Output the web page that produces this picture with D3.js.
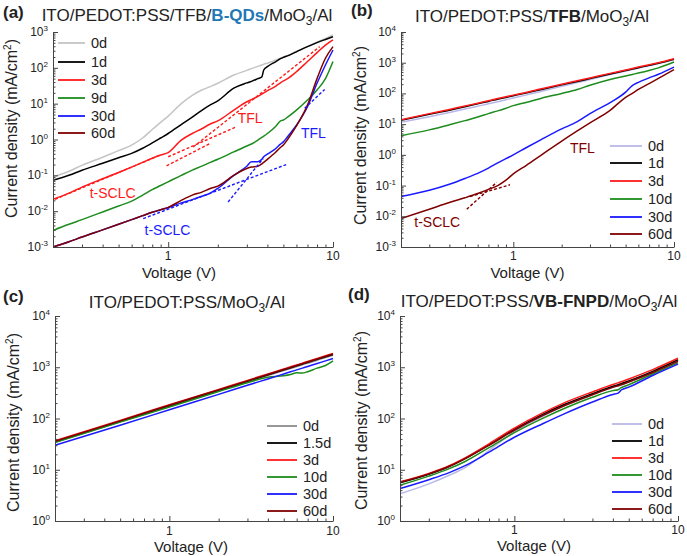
<!DOCTYPE html>
<html><head><meta charset="utf-8">
<script src="https://cdn.jsdelivr.net/npm/d3@7"></script>
<style>
body{margin:0;background:#fff}
svg{display:block}
text{font-family:"Liberation Sans",Arial,sans-serif;fill:#222}
</style>
</head><body>
<svg id="chart" width="687" height="556"></svg>
<script>
// ---------------- DATA ----------------
const xTickLabels = [1, 10];

// Panel (a) ITO/PEDOT:PSS/TFB/B-QDs/MoO3/Al
const voltsA = [0.2,0.25,0.3,0.4,0.5,0.6,0.7,0.8,0.9,1.0,1.2,1.4,1.6,1.8,2.0,2.5,3.0,3.2,3.5,3.7,3.8,4.0,4.5,4.8,5.0,5.3,6.0,7.0,8.0,9.0,10];
const labelsA = ["0d","1d","3d","9d","30d","60d"];
const a0d  = [0.09,0.13,0.19,0.32,0.49,0.7,1.1,1.9,3.0,4.5,10,17,24,30,37,63,85,95,110,120,126,135,165,185,200,220,290,390,520,660,830];
const a1d  = [0.073,0.1,0.138,0.217,0.31,0.41,0.57,0.8,1.1,1.47,2.6,4.2,6.5,9.2,12,27,38,42,50,56,87,108,150,180,196,215,280,390,505,620,740];
const a3d  = [0.0215,0.032,0.047,0.08,0.12,0.17,0.23,0.3,0.37,0.43,0.96,1.47,2.0,2.7,3.3,6.6,11.3,13,16,18.5,20,23,31,38,43,50,78,150,265,430,600];
const a9d  = [0.0029,0.0043,0.0058,0.0095,0.014,0.019,0.028,0.04,0.052,0.066,0.1,0.14,0.18,0.23,0.28,0.45,0.66,0.75,0.96,1.14,1.24,1.47,2.35,3.3,3.5,4.2,6.6,12.6,24,50,150];
const a30d = [0.001,0.0014,0.0019,0.003,0.0043,0.0058,0.0075,0.0093,0.011,0.0125,0.017,0.021,0.026,0.032,0.043,0.1,0.18,0.24,0.24,0.28,0.33,0.39,0.56,0.74,0.86,1.2,2.5,8.2,37,120,315];
const a60d = [0.001,0.0014,0.0019,0.003,0.0043,0.0058,0.0075,0.0093,0.011,0.0128,0.02,0.028,0.034,0.043,0.05,0.1,0.155,0.17,0.18,0.21,0.23,0.28,0.45,0.6,0.7,1.0,2.4,9.1,50,185,390];
// fitted dashed lines (V,J pairs)
const fitsRedA  = [[[0.206,0.0215],[0.89,0.365]], [[0.977,0.184],[1.79,0.77]], [[1.0,0.33],[2.6,2.26]], [[1.42,0.62],[8.3,390]]];
const fitsBlueA = [[[0.705,0.0062],[5.2,0.2]], [[2.31,0.018],[3.76,0.29]], [[6.73,7.4],[8.9,25]]];

// Panel (b) ITO/PEDOT:PSS/TFB/MoO3/Al
const voltsB = [0.2,0.3,0.4,0.5,0.6,0.7,0.8,0.9,1.0,1.2,1.5,2.0,2.5,3.0,4.0,5.0,5.5,6.0,7.0,8.0,10];
const labelsB = ["0d","1d","3d","10d","30d","60d"];
const b0d  = [11.5,17.5,24,31,38,46,54,62,71,88,118,170,225,285,410,540,605,670,800,940,1250];
const b1d  = [13.3,21,28.5,37,46,55,65,74,84,103,135,190,245,305,430,555,620,690,820,960,1300];
const b3d  = [14,22,30,39,48,58,68,78,88,108,142,200,258,320,450,580,650,720,860,1000,1350];
const b10d = [4.2,6.5,9.5,13,17,22,27,33,40,51,70,100,135,185,285,370,415,460,560,680,1050];
const b30d = [0.044,0.07,0.11,0.17,0.25,0.37,0.55,0.75,1.0,1.7,3.2,7,12,22,50,110,180,230,320,420,720];
const b60d = [0.0085,0.017,0.028,0.04,0.055,0.075,0.1,0.15,0.24,0.45,1.0,2.8,6,11,28,75,100,135,210,310,600];
const fitsB = [[[0.513,0.017],[0.788,0.127]], [[0.538,0.044],[0.953,0.106]]];

// Panel (c) ITO/PEDOT:PSS/MoO3/Al
const voltsC = [0.2,0.5,1,2,3,4,5,5.5,6,6.5,7,8,9,10];
const labelsC = ["0d","1.5d","3d","10d","30d","60d"];
const c0d   = [34.5,86,172,344,516,688,860,946,1030,1120,1200,1375,1550,1720];
const c15d  = [35.5,89,178,356,534,712,890,980,1070,1160,1250,1425,1600,1780];
const c3d   = [37,92,185,370,555,740,925,1020,1110,1200,1300,1480,1670,1850];
const c10d  = [34,85,168,336,500,640,680,720,780,770,820,960,1080,1330];
const c30d  = [30,74,148,296,444,592,740,814,888,962,1036,1184,1330,1480];
const c60d  = [36,90,181,362,543,724,905,995,1085,1175,1265,1450,1630,1810];

// Panel (d) ITO/PEDOT:PSS/VB-FNPD/MoO3/Al
const voltsD = [0.2,0.3,0.4,0.5,0.7,1.0,1.5,2.0,3.0,4.0,4.3,4.5,5.0,7.0,10];
const labelsD = ["0d","1d","3d","10d","30d","60d"];
const d0d  = [3.4,5.3,7.8,11,24,55,112,175,290,405,435,455,515,790,1300];
const d1d  = [5.6,8.2,11.6,16.5,31,62,122,185,305,425,455,480,540,830,1400];
const d3d  = [5.8,8.5,12,17,32,65,130,200,330,460,495,520,590,900,1500];
const d10d = [5.0,7.5,10.5,14.5,27,53,102,155,260,350,365,400,455,740,1220];
const d30d = [4.3,6.4,8.8,12,22,43,80,122,210,295,312,360,410,690,1150];
const d60d = [5.7,8.3,11.7,16.5,30,59,115,175,290,405,435,455,515,790,1300];

// ---------------- DRAWING ----------------
const svg = d3.select("#chart");
const RED="#ff1a1a", BLACK="#000000", GREEN="#1c8c1c", BLUE="#1a1aff", DRED="#800000";

function decades(lo, hi){const r=[];for(let e=Math.round(Math.log10(lo));e<=Math.round(Math.log10(hi));e++)r.push(e);return r;}
function minors(lo, hi){const r=[];for(let e=Math.floor(Math.log10(lo));e<Math.ceil(Math.log10(hi));e++)for(let k=2;k<=9;k++){const v=k*Math.pow(10,e);if(v>=lo*0.999&&v<=hi*1.001)r.push(v);}return r;}

function drawPanel(p, idx){
  const g = svg.append("g");
  const x = d3.scaleLog().domain([0.2,10]).range([p.l,p.r]);
  const y = d3.scaleLog().domain(p.yDom).range([p.b,p.t]);
  const clipId = "clip"+idx;
  g.append("clipPath").attr("id",clipId).append("rect")
    .attr("x",p.l).attr("y",p.t-1).attr("width",p.r-p.l+2).attr("height",p.b-p.t+1);
  const plot = g.append("g").attr("clip-path","url(#"+clipId+")");
  const line = d3.line().x(d=>x(d[0])).y(d=>y(d[1])).curve(d3.curveMonotoneX);

  p.series.forEach(s=>{
    plot.append("path").attr("d", line(p.volts.map((v,i)=>[v,s.values[i]])))
      .attr("fill","none").attr("stroke",s.color).attr("stroke-width",1.5);
  });
  (p.fits||[]).forEach(f=>{
    f.lines.forEach(seg=>{
      plot.append("path").attr("d", d3.line().x(d=>x(d[0])).y(d=>y(d[1]))(seg))
        .attr("fill","none").attr("stroke",f.color).attr("stroke-width",1.4).attr("stroke-dasharray","3,2");
    });
  });

  // axes
  const yMaj = decades(p.yDom[0],p.yDom[1]).map(e=>Math.pow(10,e));
  const yMin = minors(p.yDom[0],p.yDom[1]);
  const xMaj = xTickLabels;
  const xMin = minors(0.2,10).filter(v=>xMaj.indexOf(v)<0);
  const ax = g.append("g").attr("transform","translate("+p.l+",0)");
  ax.call(d3.axisLeft(y).tickValues(yMaj).tickSize(-5).tickSizeOuter(0).tickFormat(""));
  ax.append("g").call(d3.axisLeft(y).tickValues(yMin).tickSize(-2.5).tickSizeOuter(0).tickFormat("")).select(".domain").remove();
  const bx = g.append("g").attr("transform","translate(0,"+p.b+")");
  bx.call(d3.axisBottom(x).tickValues(xMaj).tickSize(-5).tickSizeOuter(0).tickFormat(""));
  bx.append("g").call(d3.axisBottom(x).tickValues(xMin).tickSize(-2.5).tickSizeOuter(0).tickFormat("")).select(".domain").remove();
  g.selectAll(".domain").attr("stroke","#444").attr("stroke-width",1);
  g.selectAll(".tick line").attr("stroke","#444");

  // y tick labels 10^n
  yMaj.forEach(v=>{
    const e = Math.round(Math.log10(v));
    const t = g.append("text").attr("x",p.l-5).attr("y",y(v)+4).attr("text-anchor","end")
      .style("font-size","12px");
    t.append("tspan").text("10");
    t.append("tspan").attr("dy",-5).style("font-size","8px").text(String(e));
  });
  xMaj.forEach(v=>{
    g.append("text").attr("x",x(v)).attr("y",p.b+p.xtY).attr("text-anchor","middle")
      .style("font-size","12px").text(String(v));
  });
  // axis titles
  g.append("text").attr("x",(p.l+p.r)/2+p.xlabDx).attr("y",p.b+p.xlabY).attr("text-anchor","middle")
    .style("font-size","15px").text("Voltage (V)");
  const yt = g.append("text").attr("transform","translate("+(p.l-p.ylabDx)+","+((p.t+p.b)/2+p.ylabDy)+") rotate(-90)")
    .attr("text-anchor","middle").style("font-size","16px");
  yt.append("tspan").text("Current density (mA/cm");
  yt.append("tspan").attr("dy",-6).style("font-size","10px").text("2");
  yt.append("tspan").attr("dy",6).text(")");

  // panel letter
  g.append("text").attr("x",p.letterX).attr("y",p.letterY).style("font-size","17px").style("font-weight","bold")
    .text(p.letter);
  // title
  const tt = g.append("text").attr("x",p.titleX).attr("y",p.titleY).attr("text-anchor","middle").style("font-size","17px");
  p.title.forEach(part=>{
    const ts = tt.append("tspan").text(part.t);
    if(part.bold) ts.style("font-weight","bold");
    if(part.color) ts.style("fill",part.color);
    if(part.sub){ ts.attr("dy",4).style("font-size","12px"); }
    if(part.after){ ts.attr("dy",-4); }
  });

  // legend
  p.series.forEach((s,i)=>{
    const ly = p.legY[i];
    g.append("line").attr("x1",p.legX).attr("x2",p.legX+p.legW).attr("y1",ly).attr("y2",ly)
      .attr("stroke",s.color).attr("stroke-width",1.8);
    g.append("text").attr("x",p.legX+p.legW+6).attr("y",ly+5).style("font-size","14.5px").text(s.name);
  });
  // notes
  (p.notes||[]).forEach(n=>{
    g.append("text").attr("x",x(n.v)).attr("y",y(n.j)).attr("text-anchor","middle").attr("dy","0.35em")
      .style("font-size","14px").style("fill",n.color).text(n.t);
  });
}

const panels = [
  {l:53,r:333,t:32,b:247,yDom:[1e-3,1e3],volts:voltsA,xtY:13,xlabY:31,xlabDx:-14,ylabDx:36,ylabDy:-11,
   series:[{name:labelsA[0],values:a0d,color:"#c4c4c4"},{name:labelsA[1],values:a1d,color:BLACK},{name:labelsA[2],values:a3d,color:RED},
           {name:labelsA[3],values:a9d,color:GREEN},{name:labelsA[4],values:a30d,color:BLUE},{name:labelsA[5],values:a60d,color:DRED}],
   fits:[{color:RED,lines:fitsRedA},{color:BLUE,lines:fitsBlueA}],
   notes:[{t:"TFL",v:3.14,j:4,color:RED},{t:"t-SCLC",v:0.46,j:0.031,color:RED},{t:"t-SCLC",v:0.99,j:0.0029,color:BLUE},{t:"TFL",v:7.6,j:1.5,color:BLUE}],
   legX:58,legW:27,legY:[43,62,80,98,116,133],
   letter:"(a)",letterX:3,letterY:18,titleX:187,titleY:21,
   title:[{t:"ITO/PEDOT:PSS/TFB/"},{t:"B-QDs",bold:true,color:"#1f78b4"},{t:"/MoO"},{t:"3",sub:true},{t:"/Al",after:true}]},
  {l:401,r:674,t:32,b:247,yDom:[1e-3,1e4],volts:voltsB,xtY:13,xlabY:31,xlabDx:-10,ylabDx:35,ylabDy:-4,
   series:[{name:labelsB[0],values:b0d,color:"#b8b8e8"},{name:labelsB[1],values:b1d,color:BLACK},{name:labelsB[2],values:b3d,color:RED},
           {name:labelsB[3],values:b10d,color:GREEN},{name:labelsB[4],values:b30d,color:BLUE},{name:labelsB[5],values:b60d,color:DRED}],
   fits:[{color:DRED,lines:fitsB}],
   notes:[{t:"TFL",v:2.69,j:1.67,color:DRED},{t:"t-SCLC",v:0.336,j:0.0065,color:DRED}],
   legX:610,legW:32,legY:[146,163,181,199,217,234],
   letter:"(b)",letterX:351,letterY:16,titleX:532,titleY:22,
   title:[{t:"ITO/PEDOT:PSS/"},{t:"TFB",bold:true},{t:"/MoO"},{t:"3",sub:true},{t:"/Al",after:true}]},
  {l:55,r:333,t:316,b:521,yDom:[1,1e4],volts:voltsC,xtY:14,xlabY:31,xlabDx:-3,ylabDx:36,ylabDy:4,
   series:[{name:labelsC[0],values:c0d,color:"#8c8c8c"},{name:labelsC[1],values:c15d,color:BLACK},{name:labelsC[2],values:c3d,color:RED},
           {name:labelsC[3],values:c10d,color:GREEN},{name:labelsC[4],values:c30d,color:BLUE},{name:labelsC[5],values:c60d,color:DRED}],
   legX:267,legW:30,legY:[426,443,460,477,494,511],
   letter:"(c)",letterX:3,letterY:302,titleX:187,titleY:308,
   title:[{t:"ITO/PEDOT:PSS/MoO"},{t:"3",sub:true},{t:"/Al",after:true}]},
  {l:400,r:678,t:316,b:521,yDom:[1,1e4],volts:voltsD,xtY:13,xlabY:30,xlabDx:-5,ylabDx:33,ylabDy:2,
   series:[{name:labelsD[0],values:d0d,color:"#b8b8e8"},{name:labelsD[1],values:d1d,color:BLACK},{name:labelsD[2],values:d3d,color:RED},
           {name:labelsD[3],values:d10d,color:GREEN},{name:labelsD[4],values:d30d,color:BLUE},{name:labelsD[5],values:d60d,color:DRED}],
   legX:612,legW:30,legY:[424,441,458,475,492,509],
   letter:"(d)",letterX:348,letterY:300,titleX:539,titleY:307,
   title:[{t:"ITO/PEDOT:PSS/"},{t:"VB-FNPD",bold:true},{t:"/MoO"},{t:"3",sub:true},{t:"/Al",after:true}]}
];
panels.forEach((p,i)=>drawPanel(p,i));
</script>
</body></html>
